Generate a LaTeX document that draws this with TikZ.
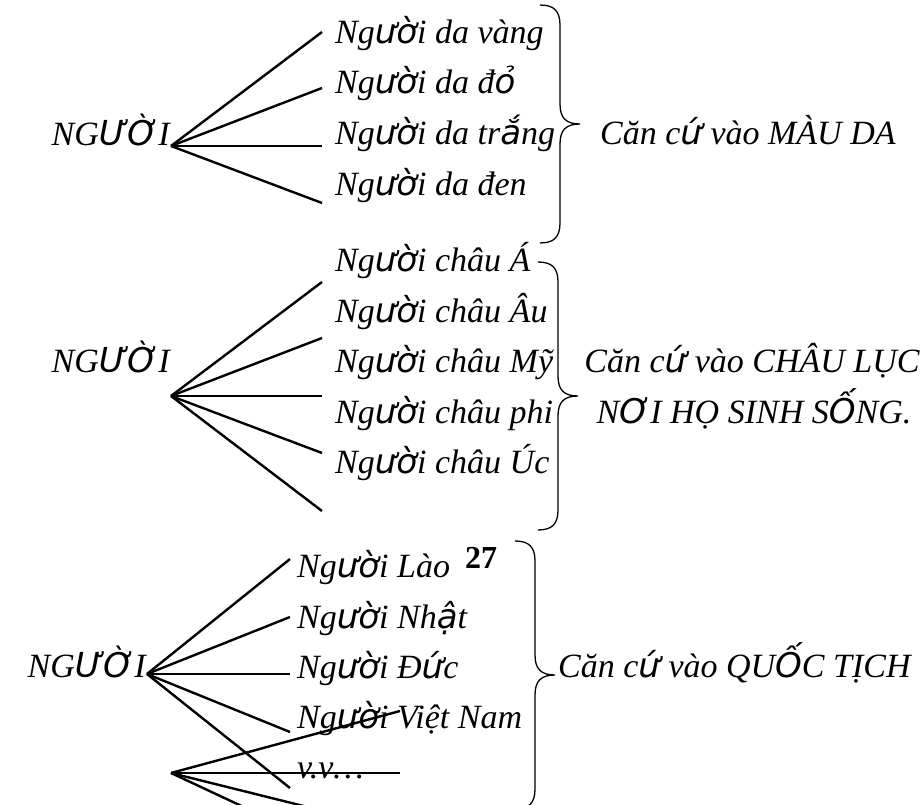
\documentclass[tikz,border=0pt]{standalone}
\usepackage{fontspec}
\setmainfont{Liberation Serif}
\newfontfamily\fbfont{DejaVu Sans}
\newcommand{\fb}[1]{{\fbfont #1}}
\tikzset{
  lbl/.style={font=\fontsize{34}{40}\selectfont\itshape, inner sep=0pt, anchor=base west},
  branch/.style={line width=2.4pt},
  brc/.style={line width=1.3pt}
}
% brace: x of the ends, y top, y tip, y bottom
\newcommand{\wbrace}[4]{%
  \draw[brc] (#1,#2) .. controls (#1+14,#2) and (#1+20,#2+6) .. (#1+20,#2+20)
    -- (#1+20,#3-20) .. controls (#1+20,#3-6) and (#1+26,#3) .. (#1+40,#3)
    .. controls (#1+26,#3) and (#1+20,#3+6) .. (#1+20,#3+20)
    -- (#1+20,#4-20) .. controls (#1+20,#4-6) and (#1+14,#4) .. (#1,#4);}
\begin{document}
\begin{tikzpicture}[x=1pt,y=-1pt]
  \useasboundingbox (0,0) rectangle (924,805);
  \clip (0,0) rectangle (924,805);
  % skin colour
  \coordinate (A1) at (171,146);
  \node[lbl, anchor=base east] (N1) at (170,146) {NG\fb{ƯỜ}I};
  \coordinate (E11) at (322,32);
  \coordinate (E12) at (322,88);
  \coordinate (E13) at (322,146);
  \coordinate (E14) at (322,203);
  \draw[branch] (A1) -- (E11);
  \draw[branch] (A1) -- (E12);
  \draw[branch] (A1) -- (E13);
  \draw[branch] (A1) -- (E14);
  \node[lbl] (vang)  at (335,44)  {Ng\fb{ườ}i da vàng};
  \node[lbl] (do)    at (335,94)  {Ng\fb{ườ}i da đ\fb{ỏ}};
  \node[lbl] (trang) at (335,145) {Ng\fb{ườ}i da tr\fb{ắ}ng};
  \node[lbl] (den)   at (335,196) {Ng\fb{ườ}i da đen};
  \wbrace{540}{5}{124}{243}
  \node[lbl] (mauda) at (600,145) {Căn c\fb{ứ} vào MÀU DA};
  % continents
  \coordinate (A2) at (171,396);
  \node[lbl, anchor=base east] (N2) at (170,372) {NG\fb{ƯỜ}I};
  \coordinate (E21) at (322,282);
  \coordinate (E22) at (322,338);
  \coordinate (E23) at (322,396);
  \coordinate (E24) at (322,453);
  \coordinate (E25) at (322,511);
  \draw[branch] (A2) -- (E21);
  \draw[branch] (A2) -- (E22);
  \draw[branch] (A2) -- (E23);
  \draw[branch] (A2) -- (E24);
  \draw[branch] (A2) -- (E25);
  \node[lbl] (a)   at (335,272) {Ng\fb{ườ}i châu Á};
  \node[lbl] (au)  at (335,322) {Ng\fb{ườ}i châu Âu};
  \node[lbl] (my)  at (335,372) {Ng\fb{ườ}i châu Mỹ};
  \node[lbl] (phi) at (335,423) {Ng\fb{ườ}i châu phi};
  \node[lbl] (uc)  at (335,473) {Ng\fb{ườ}i châu Úc};
  \wbrace{538}{262}{396}{530}
  \node[lbl, anchor=base] (chauluc) at (752,372) {Căn c\fb{ứ} vào CHÂU LỤC};
  \node[lbl, anchor=base] (noisinh) at (754,423) {N\fb{Ơ}I HỌ SINH S\fb{Ố}NG.};
  % nationality
  \coordinate (A3) at (147,674);
  \node[lbl, anchor=base east] (N3) at (146,677) {NG\fb{ƯỜ}I};
  \coordinate (E31) at (290,559);
  \coordinate (E32) at (290,617);
  \coordinate (E33) at (290,674);
  \coordinate (E34) at (290,732);
  \coordinate (E35) at (290,788);
  \draw[branch] (A3) -- (E31);
  \draw[branch] (A3) -- (E32);
  \draw[branch] (A3) -- (E33);
  \draw[branch] (A3) -- (E34);
  \draw[branch] (A3) -- (E35);
  \node[lbl] (lao)  at (297,577) {Ng\fb{ườ}i Lào};
  \node[lbl] (nhat) at (297,628) {Ng\fb{ườ}i Nh\fb{ậ}t};
  \node[lbl] (duc)  at (297,678) {Ng\fb{ườ}i Đ\fb{ứ}c};
  \node[lbl] (vn)   at (297,728) {Ng\fb{ườ}i Việt Nam};
  \node[lbl] (vv)   at (297,778) {v.v…};
  \node[font=\fontsize{32}{36}\selectfont\bfseries, inner sep=0pt, anchor=base west] (pg) at (465,568) {27};
  \wbrace{515}{541}{675}{809}
  \node[lbl] (quoctich) at (558,677) {Căn c\fb{ứ} vào QU\fb{Ố}C TỊCH};
  % stray fan
  \coordinate (A4) at (171,773);
  \coordinate (E41) at (400,711);
  \coordinate (E42) at (400,773);
  \coordinate (E43) at (400,830);
  \coordinate (E44) at (310,838);
  \draw[branch] (A4) -- (E41);
  \draw[branch] (A4) -- (E42);
  \draw[branch] (A4) -- (E43);
  \draw[branch] (A4) -- (E44);
\end{tikzpicture}
\end{document}
